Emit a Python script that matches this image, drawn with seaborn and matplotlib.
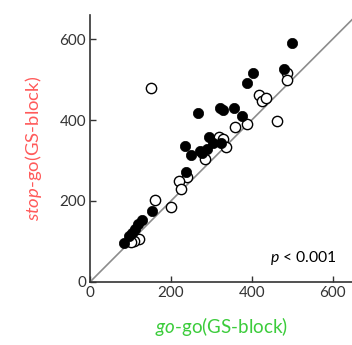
import numpy as np
import pandas as pd
import matplotlib
matplotlib.use("Agg")
import matplotlib.pyplot as plt
import seaborn as sns

# stop-go vs go-go (GS-block), two groups
filled_x = [500, 479, 404, 387, 267, 321, 328, 356, 375, 294, 304, 325, 234, 249, 272, 277, 288, 238, 153, 128, 118, 111, 103, 97, 83]
filled_y = [590, 527, 516, 491, 418, 430, 424, 430, 410, 359, 344, 344, 336, 313, 324, 318, 328, 271, 176, 153, 142, 131, 122, 113, 96]
open_x = [151, 488, 488, 417, 426, 436, 463, 358, 388, 318, 329, 336, 285, 240, 220, 226, 161, 200, 122, 109, 100]
open_y = [478, 517, 499, 462, 447, 455, 398, 384, 389, 359, 353, 333, 303, 259, 250, 229, 202, 184, 106, 101, 98]
ticks = [0, 200, 400, 600]

df = pd.DataFrame({
    "x": filled_x + open_x,
    "y": filled_y + open_y,
    "group": ["filled"] * len(filled_x) + ["open"] * len(open_x),
})

sns.set_style("ticks")
plt.rcParams["font.family"] = ["Lato", "DejaVu Sans"]
plt.rcParams["mathtext.fontset"] = "custom"
plt.rcParams["mathtext.rm"] = "Lato"
plt.rcParams["mathtext.it"] = "Lato:italic"

fig = plt.figure(figsize=(3.52, 3.45), dpi=100)
ax = fig.add_axes([0.256, 0.183, 0.744, 0.774])

ax.plot([0, 650], [0, 650], color="#8c8c8c", lw=1.2, zorder=1)

sns.scatterplot(data=df[df.group == "open"], x="x", y="y", ax=ax, s=55,
                facecolor="white", edgecolor="black", linewidth=1.0, zorder=2)
sns.scatterplot(data=df[df.group == "filled"], x="x", y="y", ax=ax, s=55,
                color="black", edgecolor="black", linewidth=0.5, zorder=3)

ax.set_xlim(0, 648)
ax.set_ylim(0, 660)
ax.set_xticks(ticks)
ax.set_yticks(ticks)
ax.set_xticklabels([str(t) for t in ticks])
ax.set_yticklabels([str(t) for t in ticks])
ax.tick_params(direction="in", length=4, width=1, colors="#333333", labelsize=11, pad=3)
for s in ["top", "right"]:
    ax.spines[s].set_visible(False)
for s in ["left", "bottom"]:
    ax.spines[s].set_color("#333333")
    ax.spines[s].set_linewidth(1.2)

ax.set_xlabel(r"$\mathit{go}$-go(GS-block)", color="#3ccc3c", fontsize=13.5, labelpad=11)
ax.set_ylabel(r"$\mathit{stop}$-go(GS-block)", color="#ff5a5a", fontsize=13.3, labelpad=11)

ax.text(610, 58, r"$\mathit{p}$ < 0.001", ha="right", va="center", fontsize=11.3, color="black")

fig.savefig("out.png", dpi=100)
